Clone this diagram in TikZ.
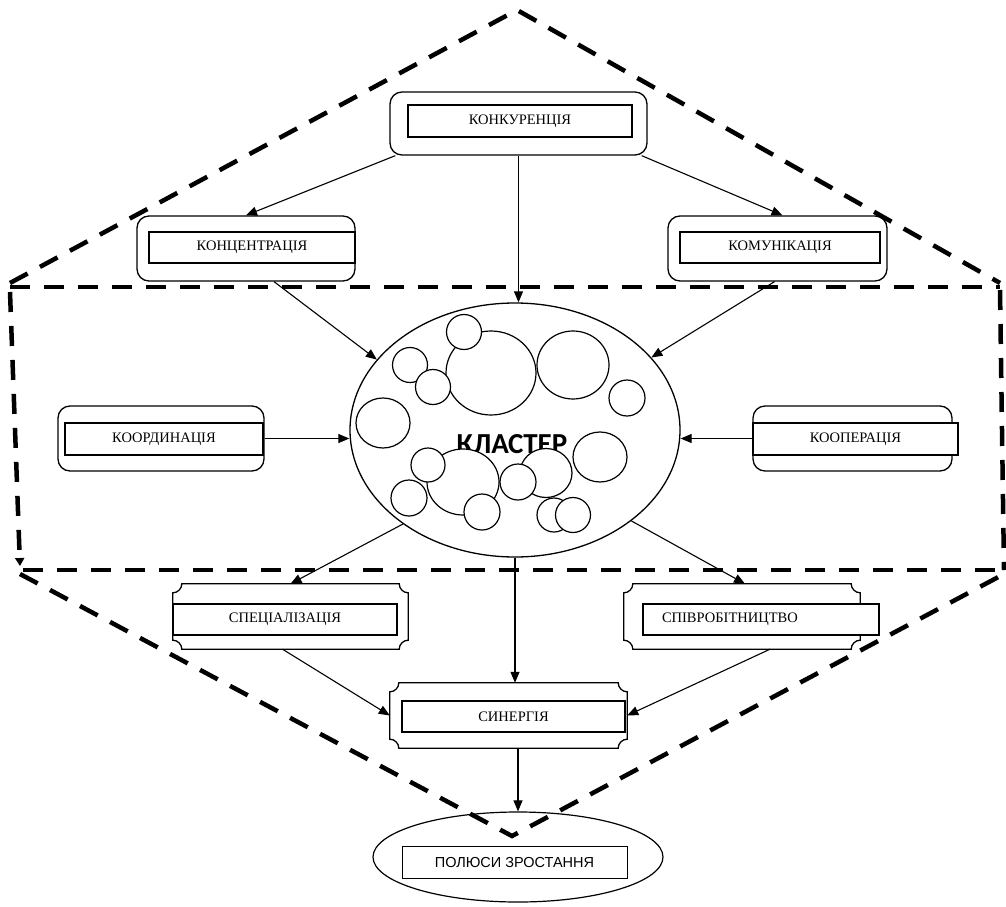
\documentclass[tikz,border=0pt]{standalone}
\usepackage{fontspec}
\setmainfont{Liberation Serif}
\newfontfamily\clusterfont{Carlito}
\newfontfamily\polesfont{Liberation Sans}
\usetikzlibrary{arrows.meta,shapes.geometric,calc}
\tikzset{
  boxline/.style={line width=1.3pt},
  roundbox/.style={draw, line width=1.3pt, rounded corners=12pt, inner sep=0pt},
  plainbox/.style={draw=none, inner sep=0pt},
  innerbox/.style={draw, line width=1.3pt, fill=white, inner sep=0pt, font=\fontsize{14.5}{16}\selectfont},
  conn/.style={line width=1.1pt, -{Triangle[length=11pt,width=9pt]}},
  dashline/.style={line width=4.5pt, dash pattern=on 20pt off 14pt},
  bubble/.style={draw, line width=1.2pt, fill=white},
}
\newcommand\plaquepath[1]{%
  \draw[boxline] ([xshift=9pt]#1.north west) -- ([xshift=-9pt]#1.north east)
    arc[start angle=180,end angle=270,radius=9pt] -- ([yshift=9pt]#1.south east)
    arc[start angle=90,end angle=180,radius=9pt] -- ([xshift=9pt]#1.south west)
    arc[start angle=0,end angle=90,radius=9pt] -- ([yshift=-9pt]#1.north west)
    arc[start angle=-90,end angle=0,radius=9pt] -- cycle;}
\begin{document}
\begin{tikzpicture}[x=1pt,y=-1pt]
\useasboundingbox (0,0) rectangle (1006,907);

% top box
\node[roundbox, minimum width=257pt, minimum height=63pt] (konk) at (518.5,123.5) {};
\node[innerbox, minimum width=224pt, minimum height=32pt] (konkin) at (520,121) {КОНКУРЕНЦІЯ};

% second row
\node[roundbox, minimum width=218pt, minimum height=65pt] (konc) at (246,248.5) {};
\node[innerbox, minimum width=206pt, minimum height=31pt] (koncin) at (252,247.5) {КОНЦЕНТРАЦІЯ};
\node[roundbox, minimum width=219pt, minimum height=65pt] (komu) at (777.5,248.5) {};
\node[innerbox, minimum width=200pt, minimum height=31pt] (komuin) at (780,247.5) {КОМУНІКАЦІЯ};

% middle row
\node[roundbox, minimum width=206pt, minimum height=65pt] (koord) at (161,438.5) {};
\node[innerbox, minimum width=198pt, minimum height=32pt] (koordin) at (164,439) {КООРДИНАЦІЯ};
\node[roundbox, minimum width=199pt, minimum height=65pt] (koop) at (852.5,438.5) {};
\node[innerbox, minimum width=205pt, minimum height=32pt] (koopin) at (855.5,439) {КООПЕРАЦІЯ};

% cluster
\node[draw, ellipse, line width=1.3pt, minimum width=330pt, minimum height=254pt, inner sep=0pt] (cl) at (515,430) {};
\node[font=\clusterfont\bfseries\fontsize{29}{31}\selectfont, inner sep=0pt] (cltext) at (512,444) {КЛАСТЕР};
% bubbles (upper)
\draw[bubble] (491,373) ellipse[x radius=45, y radius=42];
\draw[bubble] (573,365) ellipse[x radius=36, y radius=34];
\draw[bubble] (464,332) circle[radius=17.5];
\draw[bubble] (410,365) circle[radius=17.5];
\draw[bubble] (433,387) circle[radius=17.5];
\draw[bubble] (627,398) circle[radius=18];
\draw[bubble] (383,423) ellipse[x radius=27, y radius=25];
% bubbles (lower)
\draw[bubble] (463,482) ellipse[x radius=36, y radius=33];
\draw[bubble] (428,465) circle[radius=17];
\draw[bubble] (409,498) circle[radius=18];
\draw[bubble] (482,512) circle[radius=18];
\draw[bubble] (546,473) ellipse[x radius=26, y radius=24.5];
\draw[bubble] (518,482) circle[radius=18];
\draw[bubble] (600,457) ellipse[x radius=27, y radius=25];
\draw[bubble] (554,515) circle[radius=17];
\draw[bubble] (573,515) circle[radius=17.5];

% lower row
\node[plainbox, minimum width=235pt, minimum height=65pt] (spec) at (290.5,616.5) {};
\plaquepath{spec}
\node[innerbox, minimum width=224pt, minimum height=31pt] (specin) at (285,619.5) {СПЕЦІАЛІЗАЦІЯ};
\node[plainbox, minimum width=236pt, minimum height=65pt] (spiv) at (742,616.5) {};
\plaquepath{spiv}
\node[innerbox, minimum width=236pt, minimum height=31pt, text width=198pt, align=left, inner xsep=19pt] (spivin) at (761,619.5) {СПІВРОБІТНИЦТВО};

\node[plainbox, minimum width=237pt, minimum height=65pt] (syn) at (508.5,715.5) {};
\plaquepath{syn}
\node[innerbox, minimum width=223pt, minimum height=31pt] (synin) at (513.5,716.5) {СИНЕРГІЯ};

% poles
\node[draw, ellipse, line width=1.2pt, minimum width=290pt, minimum height=90pt, inner sep=0pt] (pol) at (518,857) {};
\node[draw, line width=1pt, minimum width=225pt, minimum height=32pt, inner sep=0pt, font=\polesfont\fontsize{14.5}{16}\selectfont] (polin) at (514.5,862) {ПОЛЮСИ ЗРОСТАННЯ};

% connectors
\draw[conn] ([xshift=6pt]konk.south west) -- (konc.north);
\draw[conn] ([xshift=-6pt]konk.south east) -- ([xshift=5pt]komu.north);
\draw[conn] (konk.south) -- (konk.south |- cl.north);
\draw[conn] ([xshift=28pt]konc.south) -- (cl.153);
\draw[conn] ([xshift=-3pt]komu.south) -- (cl.28);
\draw[conn] (koord.east) -- (koord.east -| cl.west);
\draw[conn] (koop.west) -- (koop.west -| cl.east);
\draw[conn] (cl.220) -- (spec.north);
\draw[conn] (cl.south) -- (cl.south |- syn.north);
\draw[conn] (cl.322) -- ([xshift=3pt]spiv.north);
\draw[conn] ([xshift=-8pt]spec.south) -- (syn.west);
\draw[conn] ([xshift=28pt]spiv.south) -- (syn.east);
\draw[conn] (syn.south -| pol.north) -- (pol.north);

% dashed outline
\coordinate (apex) at (517,10);
\coordinate (tl) at (10,283);
\coordinate (tr) at (1000,283);
\coordinate (rtl) at (10,287);
\coordinate (rtr) at (1000,287);
\coordinate (rbl) at (20,570);
\coordinate (rbr) at (1004,570);
\coordinate (bottom) at (512,836);
\draw[dashline] (tl) -- (apex) -- (tr);
\draw[dashline] (rtl) -- (rtr);
\draw[dashline] ([yshift=-3pt]rtr) -- (rbr);
\draw[dashline, -{Triangle[length=8pt,width=9pt]}] ([yshift=-5pt]rtl) -- ([yshift=4pt]rbl);
\draw[dashline] ([xshift=3pt]rbl) -- (rbr);
\draw[dashline] ([yshift=-4pt]rbl) -- (bottom) -- ([yshift=-4pt]rbr);
\end{tikzpicture}
\end{document}
